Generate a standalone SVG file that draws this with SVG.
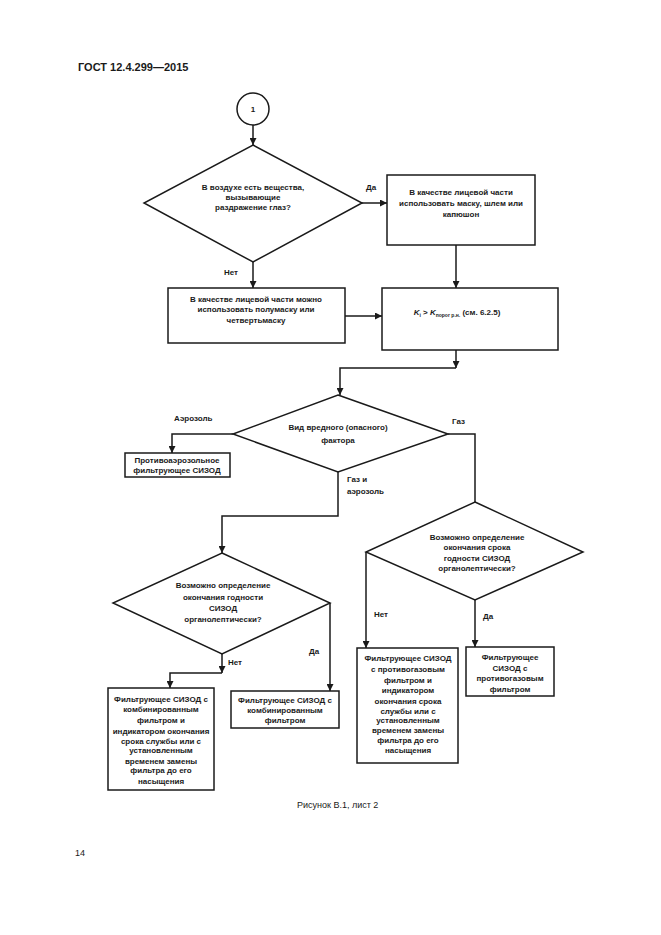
<svg xmlns="http://www.w3.org/2000/svg" width="661" height="935" viewBox="0 0 661 935">
<style>
.bg{fill:#ffffff}
.shape{fill:none;stroke:#1a1a1a;stroke-width:1.5}
.conn{fill:none;stroke:#1a1a1a;stroke-width:1.5}
.t{font-family:"Liberation Sans",Arial,sans-serif;font-size:8px;font-weight:bold;fill:#1a1a1a;text-anchor:middle}
.lbl{font-family:"Liberation Sans",Arial,sans-serif;font-size:8px;font-weight:bold;fill:#1a1a1a}
.hdr{font-family:"Liberation Sans",Arial,sans-serif;font-size:11px;font-weight:bold;fill:#1a1a1a}
.cap{font-family:"Liberation Sans",Arial,sans-serif;font-size:9px;fill:#1a1a1a}
</style>
<defs>
<marker id="arr" markerUnits="userSpaceOnUse" markerWidth="7" markerHeight="7" refX="7" refY="3.5" orient="auto">
<path d="M0,0 L7,3.5 L0,7 z" fill="#1a1a1a"/>
</marker>
</defs>
<rect class="bg" x="0" y="0" width="661" height="935"/>
<text class="hdr" x="78" y="71">ГОСТ 12.4.299—2015</text>

<g id="connectors">
<path class="conn" d="M253,125 L253,145" marker-end="url(#arr)"/>
<path class="conn" d="M362,203 L387,203" marker-end="url(#arr)"/>
<path class="conn" d="M253,262 L253,288" marker-end="url(#arr)"/>
<path class="conn" d="M456,245 L456,288" marker-end="url(#arr)"/>
<path class="conn" d="M345,316 L382,316" marker-end="url(#arr)"/>
<path class="conn" d="M456,350 L456,368" marker-end="url(#arr)"/>
<path class="conn" d="M456,368 L340,368 L340,395" marker-end="url(#arr)"/>
<path class="conn" d="M233,434 L172,434 L172,453" marker-end="url(#arr)"/>
<path class="conn" d="M448,434 L475,434 L475,502"/>
<path class="conn" d="M338,472 L338,516 L222,516 L222,553" marker-end="url(#arr)"/>
<path class="conn" d="M366,552 L366,648" marker-end="url(#arr)"/>
<path class="conn" d="M475,600 L475,647" marker-end="url(#arr)"/>
<path class="conn" d="M222,654 L222,673" marker-end="url(#arr)"/>
<path class="conn" d="M222,673 L170,673 L170,688" marker-end="url(#arr)"/>
<path class="conn" d="M330,603 L330,691" marker-end="url(#arr)"/>
<text class="lbl" x="366" y="190">Да</text>
<text class="lbl" x="224" y="275">Нет</text>
<text class="lbl" x="174" y="421">Аэрозоль</text>
<text class="lbl" x="452" y="424">Газ</text>
<text class="lbl" x="347" y="482">Газ и</text>
<text class="lbl" x="347" y="494">аэрозоль</text>
<text class="lbl" x="374" y="617">Нет</text>
<text class="lbl" x="483" y="619">Да</text>
<text class="lbl" x="228" y="665">Нет</text>
<text class="lbl" x="309" y="654">Да</text>
</g>

<g id="start">
<circle class="shape" cx="253" cy="109" r="16"/>
<text class="t" x="253" y="112">1</text>
</g>

<g id="q-eyes">
<polygon class="shape" points="253,145 362,203 253,262 144,203"/>
<text class="t" x="253" y="190">В воздухе есть вещества,</text>
<text class="t" x="253" y="200">вызывающие</text>
<text class="t" x="253" y="210">раздражение глаз?</text>
</g>

<g id="box-mask">
<rect class="shape" x="387" y="175" width="148" height="70"/>
<text class="t" x="461" y="195">В качестве лицевой части</text>
<text class="t" x="461" y="206">использовать маску, шлем или</text>
<text class="t" x="461" y="217">капюшон</text>
</g>

<g id="box-halfmask">
<rect class="shape" x="168" y="288" width="177" height="55"/>
<text class="t" x="256" y="302">В качестве лицевой части можно</text>
<text class="t" x="256" y="312">использовать полумаску или</text>
<text class="t" x="256" y="323">четвертьмаску</text>
</g>

<g id="box-k">
<rect class="shape" x="382" y="288" width="176" height="62"/>
<text class="t" x="457" y="315"><tspan font-style="italic">K</tspan><tspan font-size="5" dy="1.5">i</tspan><tspan dy="-1.5"> &gt; </tspan><tspan font-style="italic">K</tspan><tspan font-size="5" dy="1.5">порог р.н.</tspan><tspan dy="-1.5"> (см. 6.2.5)</tspan></text>
</g>

<g id="q-factor">
<polygon class="shape" points="338,395 448,434 338,472 233,434"/>
<text class="t" x="338" y="430">Вид вредного (опасного)</text>
<text class="t" x="338" y="443">фактора</text>
</g>

<g id="box-aerosol">
<rect class="shape" x="125" y="453" width="105" height="24"/>
<text class="t" x="177" y="463">Противоаэрозольное</text>
<text class="t" x="177" y="473">фильтрующее СИЗОД</text>
</g>

<g id="q-gas">
<polygon class="shape" points="475,502 583,552 475,600 366,552"/>
<text class="t" x="477" y="540">Возможно определение</text>
<text class="t" x="477" y="550">окончания срока</text>
<text class="t" x="477" y="561">годности СИЗОД</text>
<text class="t" x="477" y="571">органолептически?</text>
</g>

<g id="q-combined">
<polygon class="shape" points="222,553 330,603 222,654 113,603"/>
<text class="t" x="223" y="588">Возможно определение</text>
<text class="t" x="223" y="600">окончания годности</text>
<text class="t" x="223" y="611">СИЗОД</text>
<text class="t" x="223" y="622">органолептически?</text>
</g>

<g id="box-combined-indicator">
<rect class="shape" x="108" y="688" width="106" height="102"/>
<text class="t" x="161" y="702">Фильтрующее СИЗОД с</text>
<text class="t" x="161" y="712">комбинированным</text>
<text class="t" x="161" y="723">фильтром и</text>
<text class="t" x="161" y="734">индикатором окончания</text>
<text class="t" x="161" y="744">срока службы или с</text>
<text class="t" x="161" y="753">установленным</text>
<text class="t" x="161" y="764">временем замены</text>
<text class="t" x="161" y="773">фильтра до его</text>
<text class="t" x="161" y="784">насыщения</text>
</g>

<g id="box-combined">
<rect class="shape" x="231" y="691" width="108" height="37"/>
<text class="t" x="285" y="703">Фильтрующее СИЗОД с</text>
<text class="t" x="285" y="713">комбинированным</text>
<text class="t" x="285" y="723">фильтром</text>
</g>

<g id="box-gas-indicator">
<rect class="shape" x="357" y="648" width="101" height="115"/>
<text class="t" x="408" y="661">Фильтрующее СИЗОД</text>
<text class="t" x="408" y="672">с противогазовым</text>
<text class="t" x="408" y="683">фильтром и</text>
<text class="t" x="408" y="693">индикатором</text>
<text class="t" x="408" y="704">окончания срока</text>
<text class="t" x="408" y="714">службы или с</text>
<text class="t" x="408" y="723">установленным</text>
<text class="t" x="408" y="733">временем замены</text>
<text class="t" x="408" y="743">фильтра до его</text>
<text class="t" x="408" y="753">насыщения</text>
</g>

<g id="box-gas">
<rect class="shape" x="466" y="647" width="88" height="49"/>
<text class="t" x="510" y="660">Фильтрующее</text>
<text class="t" x="510" y="671">СИЗОД с</text>
<text class="t" x="510" y="681">противогазовым</text>
<text class="t" x="510" y="692">фильтром</text>
</g>

<text class="cap" x="297" y="808">Рисунок В.1, лист 2</text>
<text class="cap" x="75" y="856">14</text>
</svg>
